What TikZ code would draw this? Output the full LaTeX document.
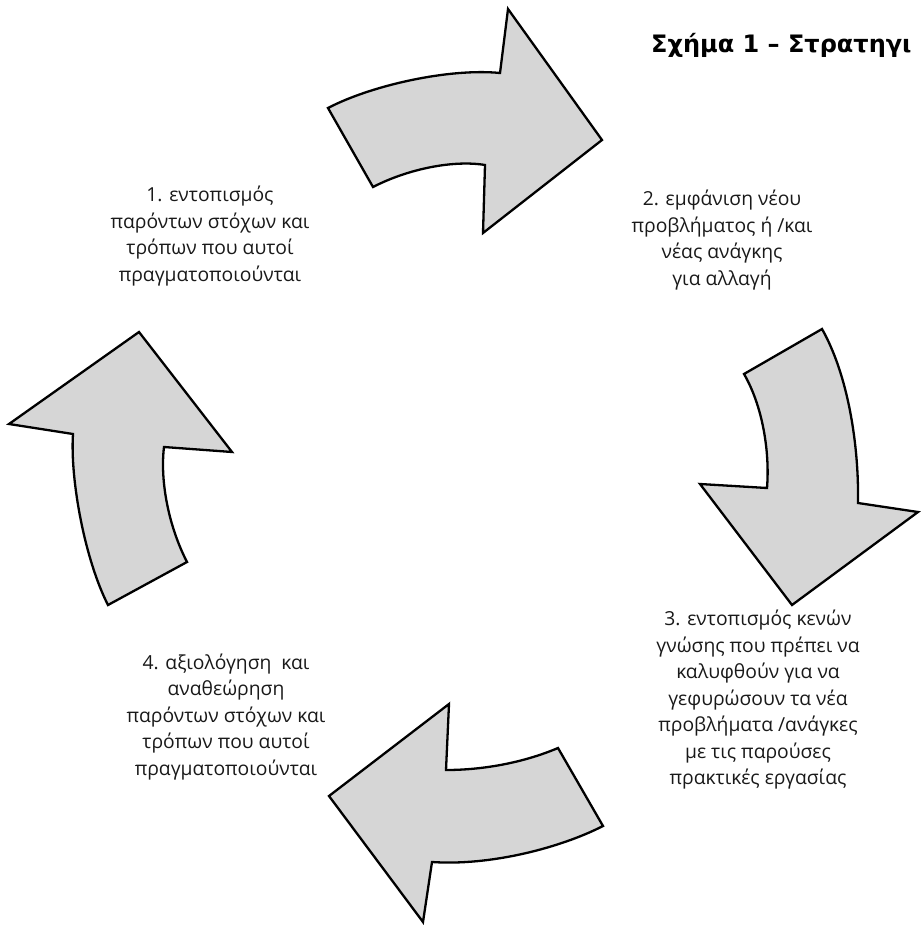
\documentclass[tikz,border=0pt]{standalone}
\usepackage{fontspec}
\setmainfont{Open Sans}
\newfontfamily\titlefont{DejaVu Sans}
\usepackage{tikz}
\usetikzlibrary{positioning}

\definecolor{arrowgray}{RGB}{214,214,214}
\definecolor{textdark}{RGB}{25,25,25}

\tikzset{
  cyclearrow/.style={fill=arrowgray, draw=black, line width=2.3pt, line join=miter},
  phase/.style={align=center, text=textdark, inner sep=0pt,
                font=\fontsize{19.3}{26.5}\selectfont},
}

\begin{document}
\begin{tikzpicture}[x=1pt, y=-1pt]

  \useasboundingbox (0,0) rectangle (920,928);

  % Title
  \node[anchor=west, inner sep=0pt, font=\titlefont\bfseries\fontsize{24}{28}\selectfont]
    (title) at (651,45) {Σχήμα 1 – Στρατηγι};

  % Define nodes
  \node[phase] (p1) at (210,236) {1. εντοπισμός\\παρόντων στόχων και\\τρόπων που αυτοί\\πραγματοποιούνται};
  \node[phase] (p2) at (722,240) {2. εμφάνιση νέου\\προβλήματος ή /και\\νέας ανάγκης\\για αλλαγή};
  \node[phase] (p3) at (758,700) {3. εντοπισμός κενών\\γνώσης που πρέπει να\\καλυφθούν για να\\γεφυρώσουν τα νέα\\προβλήματα /ανάγκες\\με τις παρούσες\\πρακτικές εργασίας};
  \node[phase] (p4) at (226,717) {4. αξιολόγηση\ \ και\\αναθεώρηση\\παρόντων στόχων και\\τρόπων που αυτοί\\πραγματοποιούνται};

  % Arrows of the cycle
  \draw[cyclearrow] (328,108) .. controls (372,85) and (450,68) .. (500,73)
    -- (508,9) -- (602,140) -- (483,233) -- (485,165)
    .. controls (455,160) and (410,168) .. (373,187) -- cycle;
  \draw[cyclearrow] (822,329) -- (744,374)
    .. controls (762,405) and (770,450) .. (767,488)
    -- (700,484) -- (792,605) -- (918,512) -- (858,503)
    .. controls (859,445) and (848,375) .. (822,329) -- cycle;
  \draw[cyclearrow] (558,748) -- (603,826)
    .. controls (560,848) and (490,866) .. (432,862)
    -- (423,922) -- (329,796) -- (449,704) -- (446,770)
    .. controls (485,770) and (525,762) .. (558,748) -- cycle;
  \draw[cyclearrow] (108,605) .. controls (85,560) and (70,480) .. (73,434)
    -- (9,424) -- (139,332) -- (232,452) -- (164,447)
    .. controls (160,480) and (168,525) .. (187,562) -- cycle;

\end{tikzpicture}
\end{document}
